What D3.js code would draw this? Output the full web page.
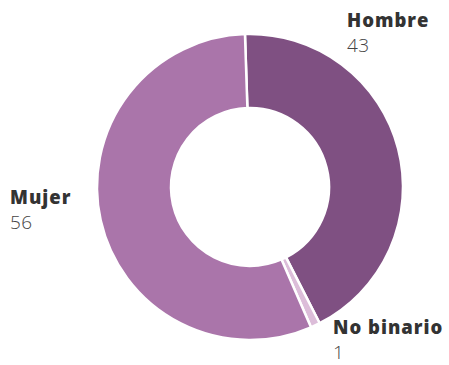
<!DOCTYPE html>
<html>
<head>
<meta charset="utf-8">
<script src="https://cdn.jsdelivr.net/npm/d3@7"></script>
<style>
  body { margin: 0; background: #fff; }
  svg { display: block; }
</style>
</head>
<body>
<svg id="chart" width="449" height="365"></svg>
<script>
// data
const categories = ["Hombre", "No binario", "Mujer"];
const values = [43, 1, 56];
const colors = ["#7f5082", "#dcbdd9", "#aa75aa"];

// label placement (anchor point for the name line)
const labelPos = [[347, 27], [333, 334], [10, 204]];

const width = 449, height = 365;
const cx = 250, cy = 187;
const outerR = 153, innerR = 79;

const svg = d3.select("#chart");

const pie = d3.pie()
    .sort(null)
    .startAngle(-0.033)
    .endAngle(-0.033 + 2 * Math.PI)
    .value(d => d);

const arc = d3.arc()
    .innerRadius(innerR)
    .outerRadius(outerR);

const g = svg.append("g")
    .attr("transform", `translate(${cx},${cy})`);

g.selectAll("path")
    .data(pie(values))
    .join("path")
    .attr("d", arc)
    .attr("fill", (d, i) => colors[i])
    .attr("stroke", "#fff")
    .attr("stroke-width", 2.5)
    .attr("stroke-linejoin", "round");

// labels
const labels = svg.append("g")
    .attr("font-family", "'Open Sans', sans-serif");

categories.forEach(function (name, i) {
    let p = labelPos[i];
    labels.append("text")
        .attr("x", p[0])
        .attr("y", p[1])
        .attr("font-size", "18.5px")
        .attr("font-weight", 800)
        .attr("letter-spacing", "1px")
        .attr("fill", "#333")
        .text(name);
    labels.append("text")
        .attr("x", p[0])
        .attr("y", p[1] + 25)
        .attr("font-size", "19px")
        .attr("font-weight", 300)
        .attr("letter-spacing", "0.5px")
        .attr("fill", "#444")
        .text(values[i]);
});
</script>
</body>
</html>
